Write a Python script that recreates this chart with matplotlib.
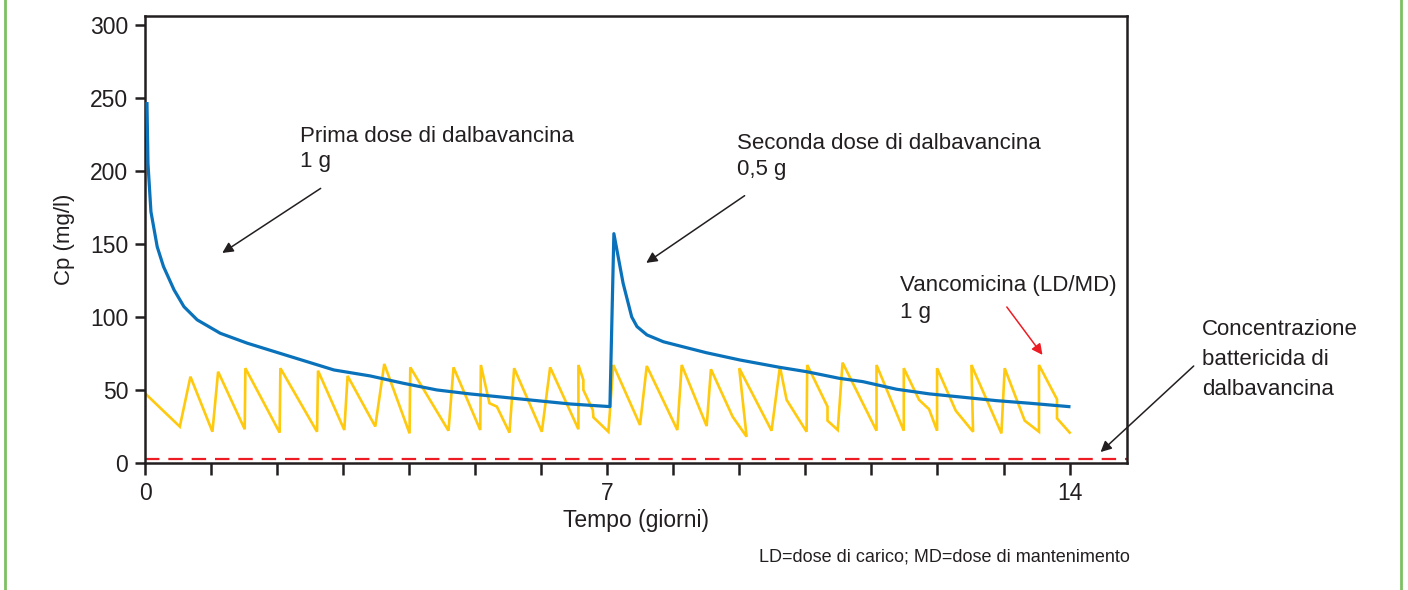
import matplotlib
matplotlib.use("Agg")
import matplotlib.pyplot as plt
from matplotlib import font_manager
from matplotlib.lines import Line2D

# ---------------- data ----------------
# Dalbavancina (blue)
dalba_t = [0.03, 0.045, 0.09, 0.185, 0.28, 0.44, 0.59, 0.79, 1.14, 1.55, 2.05, 2.86,
           3.41, 3.91, 4.42, 4.92, 5.43, 5.93, 6.44, 7.04,
           7.10, 7.24, 7.37, 7.45, 7.60, 7.85, 8.10, 8.50, 9.01, 9.61, 10.02, 10.51,
           10.87, 11.38, 11.88, 12.39, 12.89, 13.40, 13.99]
dalba_c = [246, 205, 172, 148, 134.5, 118.5, 107, 98, 88.8, 82, 75, 63.7,
           59.6, 54.6, 50, 47.3, 45, 42.7, 40.4, 38.6,
           157, 123, 100, 93.4, 87.7, 83, 80.1, 75.5, 70.5, 65.5, 62.5, 58,
           55.7, 50.5, 47.3, 45, 42.7, 40.9, 38.6]

# Vancomicina (yellow)
vanco_t = [0.0, 0.527, 0.688, 1.021, 1.107, 1.510, 1.520, 2.039, 2.050, 2.605, 2.620,
           3.018, 3.068, 3.487, 3.623, 4.006, 4.017, 4.596, 4.672, 5.076, 5.086,
           5.216, 5.328, 5.519, 5.590, 6.009, 6.135, 6.563, 6.563, 6.638, 6.638,
           6.781, 6.790, 7.017, 7.092, 7.496, 7.598, 8.061, 8.127, 8.505, 8.570,
           8.898, 9.110, 8.998, 9.488, 9.614, 9.716, 10.018, 10.028, 10.335, 10.335,
           10.49, 10.563, 11.077, 11.077, 11.490, 11.490, 11.722, 11.873, 11.994,
           11.994, 12.277, 12.539, 12.514, 12.968, 13.018, 13.321, 13.537, 13.537,
           13.810, 13.810, 14.002]
vanco_c = [47.7, 24.9, 59.1, 21.4, 62.5, 23.1, 64.9, 20.8, 64.9, 21.4, 63.2,
           22.6, 59.6, 25.0, 67.8, 20.3, 65.5, 22.1, 65.5, 22.6, 67.1,
           40.9, 38.6, 20.8, 64.9, 21.4, 65.5, 23.1, 67.1, 56.8, 50.0,
           36.3, 31.3, 21.4, 67.1, 26.0, 66.4, 22.6, 67.1, 25.3, 64.2,
           31.7, 18.0, 64.9, 22.1, 66.0, 43.2, 21.4, 67.1, 38.6, 29.0,
           22.6, 68.7, 22.1, 67.1, 22.1, 64.9, 43.2, 36.8, 22.1,
           64.9, 35.8, 21.4, 67.1, 20.3, 64.9, 29.0, 21.4, 67.1,
           43.6, 30.6, 20.8]

# Concentrazione battericida (red dashed)
mbc_level = 2.5

xticks = list(range(0, 15))
xticklabels = ["0", "", "", "", "", "", "", "7", "", "", "", "", "", "", "14"]
yticks = [0, 50, 100, 150, 200, 250, 300]
yticklabels = ["0", "50", "100", "150", "200", "250", "300"]

# ---------------- style ----------------
avail = {f.name for f in font_manager.fontManager.ttflist}
fam = ["Liberation Sans Narrow", "DejaVu Sans"] if "Liberation Sans Narrow" in avail else ["Liberation Sans", "DejaVu Sans"]
plt.rcParams["font.family"] = fam
TXT = "#231f20"
BLUE = "#0a72ba"
YELLOW = "#ffc90e"
RED = "#ed1c24"
GREEN = "#7cc063"

W, H = 1408, 590
fig = plt.figure(figsize=(W / 100, H / 100), dpi=100)
ax = fig.add_axes([145 / W, 1 - 463 / H, (1127 - 145) / W, (463 - 16) / H])

ax.plot(vanco_t, vanco_c, color=YELLOW, lw=1.9, solid_joinstyle="miter", zorder=2)
ax.plot(dalba_t, dalba_c, color=BLUE, lw=2.3, zorder=3)
ax.axhline(mbc_level, color=RED, lw=1.6, linestyle=(0, (6.5, 4)), zorder=2)

ax.set_xlim(0, 14.87)
ax.set_ylim(0, 306)
ax.set_xticks(xticks)
ax.set_xticklabels(xticklabels)
ax.set_yticks(yticks)
ax.set_yticklabels(yticklabels)
for s in ax.spines.values():
    s.set_linewidth(1.8)
    s.set_color(TXT)
ax.tick_params(axis="x", direction="out", length=8.5, width=1.8, color=TXT,
               labelsize=16.5, labelcolor=TXT, pad=5)
ax.tick_params(axis="y", direction="out", length=7, width=1.8, color=TXT,
               labelsize=16.5, labelcolor=TXT, pad=5)

ax.set_xlabel("Tempo (giorni)", fontsize=16.5, color=TXT, labelpad=3)
ax.set_ylabel("Cp (mg/l)", fontsize=16, color=TXT, labelpad=11)

tkw = dict(fontsize=16, color=TXT, va="top", ha="left")
ax.text(2.35, 231, "Prima dose di dalbavancina\n1 g", linespacing=1.28, **tkw)
ax.text(8.96, 226, "Seconda dose di dalbavancina\n0,5 g", linespacing=1.35, **tkw)
ax.text(11.43, 128.5, "Vancomicina (LD/MD)\n1 g", linespacing=1.33, **tkw)
ax.text(16.01, 98.5, "Concentrazione\nbattericida di\ndalbavancina", clip_on=False,
        linespacing=1.55, **tkw)

akw = dict(arrowstyle="-|>", color=TXT, lw=1.1, mutation_scale=16, shrinkA=0, shrinkB=0)
ax.annotate("", xy=(1.17, 143.8), xytext=(2.66, 188), arrowprops=akw)
ax.annotate("", xy=(7.59, 137), xytext=(9.08, 183), arrowprops=akw)
ax.annotate("", xy=(14.47, 7.5), xytext=(15.88, 66.4), arrowprops=akw, annotation_clip=False)
rkw = dict(akw)
rkw["color"] = RED
ax.annotate("", xy=(13.59, 74), xytext=(13.05, 106.8), arrowprops=rkw)

fig.text(1130 / W, 1 - 557 / H, "LD=dose di carico; MD=dose di mantenimento",
         fontsize=13, color=TXT, ha="right", va="center")

# green frame lines
fig.add_artist(Line2D([5 / W, 5 / W], [0, 1], color=GREEN, lw=2, transform=fig.transFigure))
fig.add_artist(Line2D([1401 / W, 1401 / W], [0, 1], color=GREEN, lw=2, transform=fig.transFigure))

fig.savefig("out.png", dpi=100)
